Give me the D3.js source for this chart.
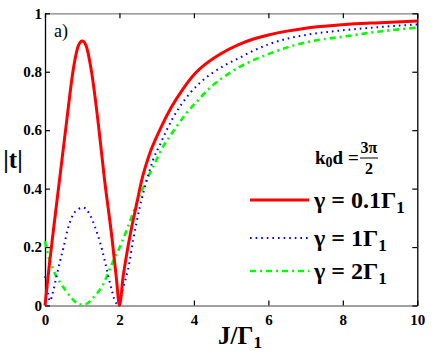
<!DOCTYPE html>
<html>
<head>
<meta charset="utf-8">
<script src="https://cdn.jsdelivr.net/npm/d3@7"></script>
<style>
  body { margin: 0; background: #fff; }
</style>
</head>
<body>
<script>
// transmission |t| versus J/Gamma1
var jRed = [0, 0.1, 0.2, 0.4, 0.6, 0.75, 0.9, 1.0, 1.1, 1.25, 1.42, 1.6, 1.8, 1.92, 2.0, 2.1, 2.2, 2.3, 2.45, 2.6, 2.8, 3.1, 3.4, 3.7, 4.0, 4.3, 4.7, 5.2, 5.6, 6, 6.5, 7, 8, 9, 10];
var tRed = [0, 0.12, 0.23, 0.44, 0.65, 0.8, 0.89, 0.905, 0.89, 0.8, 0.635, 0.43, 0.23, 0.09, 0, 0.1, 0.18, 0.25, 0.34, 0.43, 0.515, 0.605, 0.68, 0.74, 0.79, 0.825, 0.86, 0.893, 0.912, 0.926, 0.939, 0.949, 0.961, 0.968, 0.974];

var jBlue = [0, 0.05, 0.13, 0.22, 0.31, 0.4, 0.5, 0.62, 0.75, 0.9, 1.03, 1.21, 1.34, 1.47, 1.61, 1.7, 1.79, 1.88, 1.95, 2.01, 2.12, 2.23, 2.37, 2.55, 2.77, 2.9, 3.08, 3.26, 3.44, 3.62, 3.89, 4.16, 4.51, 4.87, 5.23, 5.5, 6.03, 6.57, 7.1, 7.64, 8, 9, 10];
var tBlue = [0.1, 0.07, 0.015, 0.05, 0.1, 0.15, 0.2, 0.265, 0.31, 0.33, 0.335, 0.31, 0.27, 0.22, 0.151, 0.1, 0.055, 0.015, 0.005, 0.015, 0.07, 0.123, 0.225, 0.339, 0.445, 0.498, 0.548, 0.598, 0.643, 0.68, 0.726, 0.762, 0.797, 0.825, 0.848, 0.866, 0.895, 0.915, 0.928, 0.937, 0.942, 0.953, 0.962];

var jGreen = [0, 0.1, 0.2, 0.3, 0.4, 0.67, 0.94, 1.1, 1.29, 1.56, 1.79, 2.01, 2.23, 2.46, 2.75, 2.95, 3.17, 3.35, 3.53, 3.8, 4.07, 4.51, 4.87, 5.23, 5.5, 6.03, 6.57, 7.1, 7.64, 8, 9, 10];
var tGreen = [0.22, 0.165, 0.13, 0.1, 0.08, 0.032, 0.003, 0.005, 0.026, 0.072, 0.14, 0.2, 0.27, 0.35, 0.435, 0.487, 0.544, 0.578, 0.612, 0.658, 0.697, 0.754, 0.788, 0.817, 0.834, 0.862, 0.886, 0.903, 0.914, 0.92, 0.938, 0.951];

var xTicks = [0, 2, 4, 6, 8, 10];
var yTicks = [0, 0.2, 0.4, 0.6, 0.8, 1];
var yTickLabels = ["0", "0.2", "0.4", "0.6", "0.8", "1"];
var legendLabels = ["0.1", "1", "2"];

var serif = "Liberation Serif";
var width = 436, height = 355;
var margin = {top: 13.3, right: 18.7, bottom: 49.5, left: 45};

var svg = d3.select("body").append("svg")
    .attr("width", width)
    .attr("height", height);

var x = d3.scaleLinear().domain([0, 10]).range([margin.left, width - margin.right]);
var y = d3.scaleLinear().domain([0, 1]).range([height - margin.bottom, margin.top]);

// helper for bold serif text, the way the matlab figure looks
function addText(px, py, size, bold) {
  return svg.append("text")
      .attr("x", px).attr("y", py)
      .style("font-family", serif)
      .style("font-size", size + "px")
      .style("font-weight", bold ? "bold" : "normal");
}

// axes, ticks pointing inward
function styleAxis(g, lineColor) {
  g.select(".domain").attr("stroke", lineColor).attr("stroke-width", 1.3);
  g.selectAll(".tick line").attr("stroke", "#000").attr("stroke-width", 1.2);
  g.selectAll(".tick text")
    .attr("fill", "#000")
    .style("font-family", serif)
    .style("font-size", "15px")
    .style("font-weight", "bold");
}

svg.append("g")
    .attr("transform", "translate(0," + y(0) + ")")
    .call(d3.axisBottom(x).tickValues(xTicks).tickSize(-5).tickSizeOuter(0).tickPadding(9).tickFormat(d3.format("d")))
    .call(styleAxis, "#808080");

svg.append("g")
    .attr("transform", "translate(0," + y(1) + ")")
    .call(d3.axisTop(x).tickValues(xTicks).tickSize(-5).tickSizeOuter(0).tickFormat(""))
    .call(styleAxis, "#808080");

svg.append("g")
    .attr("transform", "translate(" + x(0) + ",0)")
    .call(d3.axisLeft(y).tickValues(yTicks).tickSize(-5).tickSizeOuter(0).tickPadding(3)
      .tickFormat(function(d, i) { return yTickLabels[i]; }))
    .call(styleAxis, "#000");

svg.append("g")
    .attr("transform", "translate(" + x(10) + ",0)")
    .call(d3.axisRight(y).tickValues(yTicks).tickSize(-5).tickSizeOuter(0).tickFormat(""))
    .call(styleAxis, "#000");

// curves
var series = [
  {j: jGreen, t: tGreen, color: "#00ff00", width: 2.6, dash: "6,4,2,4"},
  {j: jBlue, t: tBlue, color: "#0000ff", width: 2, dash: "1.6,4"},
  {j: jRed, t: tRed, color: "#ff0000", width: 3, dash: null}
];

var line = d3.line()
    .x(function(d) { return x(d[0]); })
    .y(function(d) { return y(d[1]); })
    .curve(d3.curveMonotoneX);

series.forEach(function(s) {
  var pts = s.j.map(function(v, i) { return [v, s.t[i]]; });
  svg.append("path")
      .datum(pts)
      .attr("d", line)
      .attr("fill", "none")
      .attr("stroke", s.color)
      .attr("stroke-width", s.width)
      .attr("stroke-dasharray", s.dash);
});

// legend
var legendRows = [
  {color: "#ff0000", width: 3, dash: null, y: 200, label: legendLabels[0]},
  {color: "#0000ff", width: 2, dash: "1.6,4", y: 238, label: legendLabels[1]},
  {color: "#00ff00", width: 2.6, dash: "6,4,2,4", y: 271, label: legendLabels[2]}
];

legendRows.forEach(function(r) {
  svg.append("line")
      .attr("x1", 250).attr("x2", 309)
      .attr("y1", r.y).attr("y2", r.y)
      .attr("stroke", r.color)
      .attr("stroke-width", r.width)
      .attr("stroke-dasharray", r.dash);

  var txt = addText(314, r.y + 8, 24, true);
  txt.append("tspan").text("\u03b3 = " + r.label + "\u0393");
  txt.append("tspan").attr("dy", 5).style("font-size", "17px").text("1");
});

// k0 d = 3pi/2
var kd = addText(315, 164, 19, true);
kd.append("tspan").text("k");
kd.append("tspan").attr("dy", 3).style("font-size", "14px").text("0");
kd.append("tspan").attr("dy", -3).text("d =");

addText(369, 153, 16, true).attr("text-anchor", "middle").text("3\u03c0");
svg.append("line")
    .attr("x1", 360).attr("x2", 378)
    .attr("y1", 158).attr("y2", 158)
    .attr("stroke", "#000").attr("stroke-width", 1);
addText(369, 174, 16, true).attr("text-anchor", "middle").text("2");

// panel label
addText(54, 37, 18, false).text("a)");

// axis titles
addText(13, 168, 25, true).attr("text-anchor", "middle").text("|t|");

var xl = addText(240, 344, 25, true).attr("text-anchor", "middle");
xl.append("tspan").text("J/\u0393");
xl.append("tspan").attr("dy", 4).style("font-size", "17px").text("1");
</script>
</body>
</html>
